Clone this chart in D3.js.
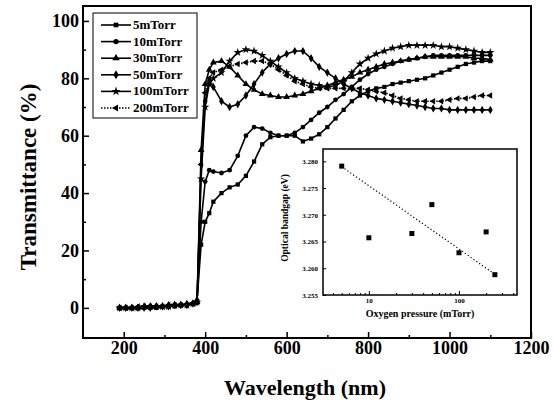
<!DOCTYPE html>
<html>
<head>
<meta charset="utf-8">
<script src="https://cdn.jsdelivr.net/npm/d3@7"></script>
<style>
  body { margin: 0; background: #fff; }
  svg text { font-family: "Liberation Serif", "Times New Roman", "DejaVu Serif", serif !important; font-weight: bold; fill: #000; }
</style>
</head>
<body>
<div class="canvas"></div>
<script>
// wavelength grid (nm) shared by every curve
const wavelength = [190, 205, 220, 235, 250, 265, 280, 295, 310, 325, 340, 355, 370,
  380, 390, 400, 410,
  420, 440, 460, 480, 500, 520, 540, 560, 580, 600, 620, 640, 660, 680, 700, 720, 740, 760,
  780, 800, 820, 840, 860, 880, 900, 920, 940, 960, 980, 1000, 1020, 1040, 1060, 1080, 1100];

// transmittance (%)
const t5 = [0, 0, 0, 0, 0, 0, 0, 0.5, 0.5, 0.5, 1, 1, 1.5,
  2.5, 22, 30, 33,
  37, 40, 42, 43, 46, 51, 57, 59.5, 60, 60, 60, 58, 59, 60.5, 63, 66, 69, 72,
  74, 75.5, 76.5, 77, 78, 78.5, 79, 79.5, 80, 81, 82, 83, 84, 85, 85.5, 86, 86];
const t10 = [0, 0, 0, 0, 0, 0.5, 0.5, 0.5, 0.5, 1, 1, 1, 1.5,
  2.5, 30, 44, 48,
  47.5, 47, 48, 53, 60, 63, 62.5, 61, 60, 60, 61, 63, 65.5, 68, 70, 72.5, 74.5, 77,
  79.5, 81.5, 83, 84, 85, 86, 86.5, 87, 87.5, 88, 88, 88, 88, 88, 88, 88, 88];
const t30 = [0, 0, 0, 0, 0.5, 0.5, 0.5, 0.5, 1, 1, 1, 1.5, 1.5,
  2, 55, 78, 83,
  85.5, 86, 84, 81, 78, 76, 74.5, 74, 73.5, 73.5, 74, 74.5, 75.5, 76.5, 77.5, 78.5, 79.5, 80.5,
  82, 83, 84, 85, 85.5, 86, 86.5, 87, 87.5, 87.5, 87.5, 87.5, 87.5, 87.5, 87, 87, 86.5];
const t50 = [0, 0, 0, 0, 0, 0, 0.5, 0.5, 0.5, 1, 1, 1, 1.5,
  2, 50, 72, 79,
  77, 72, 70, 71, 74, 78, 82, 85, 87, 88.5, 89.5, 89.5, 87, 84, 82, 80, 78, 76.5,
  75, 74, 73, 72.5, 72, 71.5, 71, 70.5, 70, 69.5, 69.5, 69, 69, 69, 69, 69, 69];
const t100 = [0, 0, 0, 0, 0.5, 0.5, 0.5, 0.5, 0.5, 1, 1, 1, 1.5,
  2, 45, 70, 78,
  80, 82, 86, 89, 90, 89.5, 88, 86, 84, 82, 80, 79, 78, 77.5, 77, 77.5, 79, 82,
  85, 87, 88.5, 89.5, 90.5, 91, 91.5, 91.5, 91.5, 91.5, 91, 91, 90.5, 90, 89.5, 89, 89];
const t200 = [0, 0, 0, 0.5, 0.5, 0.5, 0.5, 0.5, 1, 1, 1, 1, 1.5,
  2, 50, 75, 80,
  82, 83, 84, 85, 85.5, 86, 86, 85, 83, 81, 79, 78, 77, 76.5, 76.5, 76.5, 76.5, 76.5,
  76.5, 76, 75.5, 75, 74, 73, 72.5, 72, 72, 72, 72, 72.5, 73, 73, 73.5, 74, 74];

const seriesNames = ['5mTorr', '10mTorr', '30mTorr', '50mTorr', '100mTorr', '200mTorr'];

// inset: optical bandgap vs oxygen pressure
const pressure = [5, 10, 30, 50, 100, 200, 250];
const bandgap = [3.2791, 3.2657, 3.2665, 3.2719, 3.2629, 3.2668, 3.2588];
const fitPressure = [5, 235];
const fitGap = [3.2790, 3.2592];

// tick values
const xTicks = [200, 400, 600, 800, 1000, 1200];
const xMinor = [300, 500, 700, 900, 1100];
const yTicks = [0, 20, 40, 60, 80, 100];
const yMinor = [10, 30, 50, 70, 90];
const insetYTicks = [3.255, 3.260, 3.265, 3.270, 3.275, 3.280];
const insetXTicks = [10, 100];

const serif = '"Liberation Serif", "Times New Roman", serif';

// chart frame
const dims = { width: 555, height: 400 };
const frame = { left: 83, right: 531, top: 6, bottom: 338 };
const inset = { left: 323, right: 517, top: 149, bottom: 295 };

const svg = d3.select('.canvas')
  .append('svg')
  .attr('width', dims.width)
  .attr('height', dims.height);

const x = d3.scaleLinear().domain([100, 1200]).range([frame.left, frame.right]);
const y = d3.scaleLinear().domain([-10.5, 105.2]).range([frame.bottom, frame.top]);

// marker style per series
const styles = [
  { symbol: d3.symbolSquare, size: 18, rot: 0, dash: null },
  { symbol: d3.symbolCircle, size: 18, rot: 0, dash: null },
  { symbol: d3.symbolTriangle, size: 20, rot: 0, dash: null },
  { symbol: d3.symbolDiamond, size: 20, rot: 0, dash: null },
  { symbol: d3.symbolStar, size: 22, rot: 0, dash: null },
  { symbol: d3.symbolTriangle, size: 18, rot: -90, dash: '1.5,1.5' }
];

const series = [t5, t10, t30, t50, t100, t200].map((vals, k) => ({
  name: seriesNames[k],
  style: styles[k],
  points: vals.map((v, i) => ({ wl: wavelength[i], t: v }))
}));

// axes (ticks point inward)
const xAxis = d3.axisBottom(x).tickValues(xTicks).tickSizeInner(-6).tickSizeOuter(0)
  .tickPadding(3).tickFormat(d3.format('d'));
const yAxis = d3.axisLeft(y).tickValues(yTicks).tickSizeInner(-6).tickSizeOuter(0).tickPadding(4);

const gx = svg.append('g')
  .attr('transform', `translate(0, ${frame.bottom})`)
  .call(xAxis);
gx.append('g').call(d3.axisBottom(x).tickValues(xMinor).tickSize(-3).tickFormat(''));

const gy = svg.append('g')
  .attr('transform', `translate(${frame.left}, 0)`)
  .call(yAxis);
gy.append('g').call(d3.axisLeft(y).tickValues(yMinor).tickSize(-3).tickFormat(''));

[gx, gy].forEach(g => {
  g.attr('font-family', serif);
  g.selectAll('.domain').remove();
  g.selectAll('line').attr('stroke', '#000').attr('stroke-width', 1.5);
  g.selectAll('text').attr('font-size', 18);
});

// lines and markers
const line = d3.line()
  .x(d => x(d.wl))
  .y(d => y(d.t));

const curves = svg.append('g');
series.forEach(s => {
  curves.append('path')
    .attr('d', line(s.points))
    .attr('fill', 'none')
    .attr('stroke', '#000')
    .attr('stroke-width', 1.6)
    .attr('stroke-dasharray', s.style.dash);
  curves.selectAll(null)
    .data(s.points)
    .enter()
    .append('path')
      .attr('d', d3.symbol().type(s.style.symbol).size(s.style.size))
      .attr('transform', d => `translate(${x(d.wl)}, ${y(d.t)}) rotate(${s.style.rot})`)
      .attr('fill', '#000');
});

// frame
svg.append('rect')
  .attr('x', frame.left)
  .attr('y', frame.top)
  .attr('width', frame.right - frame.left)
  .attr('height', frame.bottom - frame.top)
  .attr('fill', 'none')
  .attr('stroke', '#000')
  .attr('stroke-width', 2);

// axis titles
svg.append('text')
  .attr('x', (frame.left + frame.right) / 2 - 2)
  .attr('y', 395)
  .attr('text-anchor', 'middle')
  .attr('font-size', 22)
  .text('Wavelength (nm)');

svg.append('text')
  .attr('transform', 'translate(36, 177) rotate(-90)')
  .attr('text-anchor', 'middle')
  .attr('font-size', 23)
  .text('Transmittance (%)');

// legend
const legendGroup = svg.append('g');
legendGroup.append('rect')
  .attr('x', 93).attr('y', 13)
  .attr('width', 104).attr('height', 105)
  .attr('fill', '#fff')
  .attr('stroke', '#000')
  .attr('stroke-width', 1);

const legendRows = legendGroup.selectAll('g.row')
  .data(series)
  .enter()
  .append('g')
    .attr('class', 'row')
    .attr('transform', (d, i) => `translate(0, ${25 + i * 16.6})`);

legendRows.append('line')
  .attr('x1', 101).attr('x2', 131)
  .attr('stroke', '#000')
  .attr('stroke-width', 1.6)
  .attr('stroke-dasharray', d => d.style.dash);
legendRows.append('path')
  .attr('d', d => d3.symbol().type(d.style.symbol).size(d.style.size + 4)())
  .attr('transform', d => `translate(116, 0) rotate(${d.style.rot})`)
  .attr('fill', '#000');
legendRows.append('text')
  .attr('x', 133)
  .attr('y', 4)
  .attr('font-size', 13)
  .text(d => d.name);

// inset plot
const ix = d3.scaleLog().domain([3.1, 440]).range([inset.left, inset.right]);
const iy = d3.scaleLinear().domain([3.255, 3.2823]).range([inset.bottom, inset.top]);

const insetGroup = svg.append('g');
insetGroup.append('rect')
  .attr('x', inset.left).attr('y', inset.top)
  .attr('width', inset.right - inset.left)
  .attr('height', inset.bottom - inset.top)
  .attr('fill', '#fff')
  .attr('stroke', '#000')
  .attr('stroke-width', 1.5);

const ixAxis = insetGroup.append('g')
  .attr('transform', `translate(0, ${inset.bottom})`)
  .call(d3.axisBottom(ix).tickValues(insetXTicks).tickSizeInner(-4).tickSizeOuter(0)
    .tickPadding(3).tickFormat(d3.format('d')));
ixAxis.append('g')
  .call(d3.axisBottom(ix).tickValues([4, 5, 6, 7, 8, 9, 20, 30, 40, 50, 60, 70, 80, 90, 200, 300, 400])
    .tickSize(-2).tickFormat(''));

const iyAxis = insetGroup.append('g')
  .attr('transform', `translate(${inset.left}, 0)`)
  .call(d3.axisLeft(iy).tickValues(insetYTicks).tickSizeInner(-3).tickSizeOuter(0)
    .tickPadding(5).tickFormat(d3.format('.3f')));

[ixAxis, iyAxis].forEach(g => {
  g.attr('font-family', serif);
  g.selectAll('.domain').remove();
  g.selectAll('line').attr('stroke', '#000').attr('stroke-width', 1);
  g.selectAll('text').attr('font-size', 7);
});

// dotted fit line
insetGroup.append('path')
  .attr('d', d3.line()(fitPressure.map((p, i) => [ix(p), iy(fitGap[i])])))
  .attr('stroke', '#000')
  .attr('stroke-width', 1.2)
  .attr('stroke-dasharray', '1.2,2.3');

insetGroup.selectAll('rect.pt')
  .data(pressure)
  .enter()
  .append('rect')
    .attr('class', 'pt')
    .attr('x', d => ix(d) - 2.5)
    .attr('y', (d, i) => iy(bandgap[i]) - 2.5)
    .attr('width', 5)
    .attr('height', 5)
    .attr('fill', '#000');

insetGroup.append('text')
  .attr('x', (inset.left + inset.right) / 2)
  .attr('y', 317)
  .attr('text-anchor', 'middle')
  .attr('font-size', 10)
  .text('Oxygen pressure (mTorr)');

insetGroup.append('text')
  .attr('transform', `translate(288, ${(inset.top + inset.bottom) / 2 - 4}) rotate(-90)`)
  .attr('text-anchor', 'middle')
  .attr('font-size', 9.5)
  .text('Optical bandgap (eV)');
</script>
</body>
</html>
